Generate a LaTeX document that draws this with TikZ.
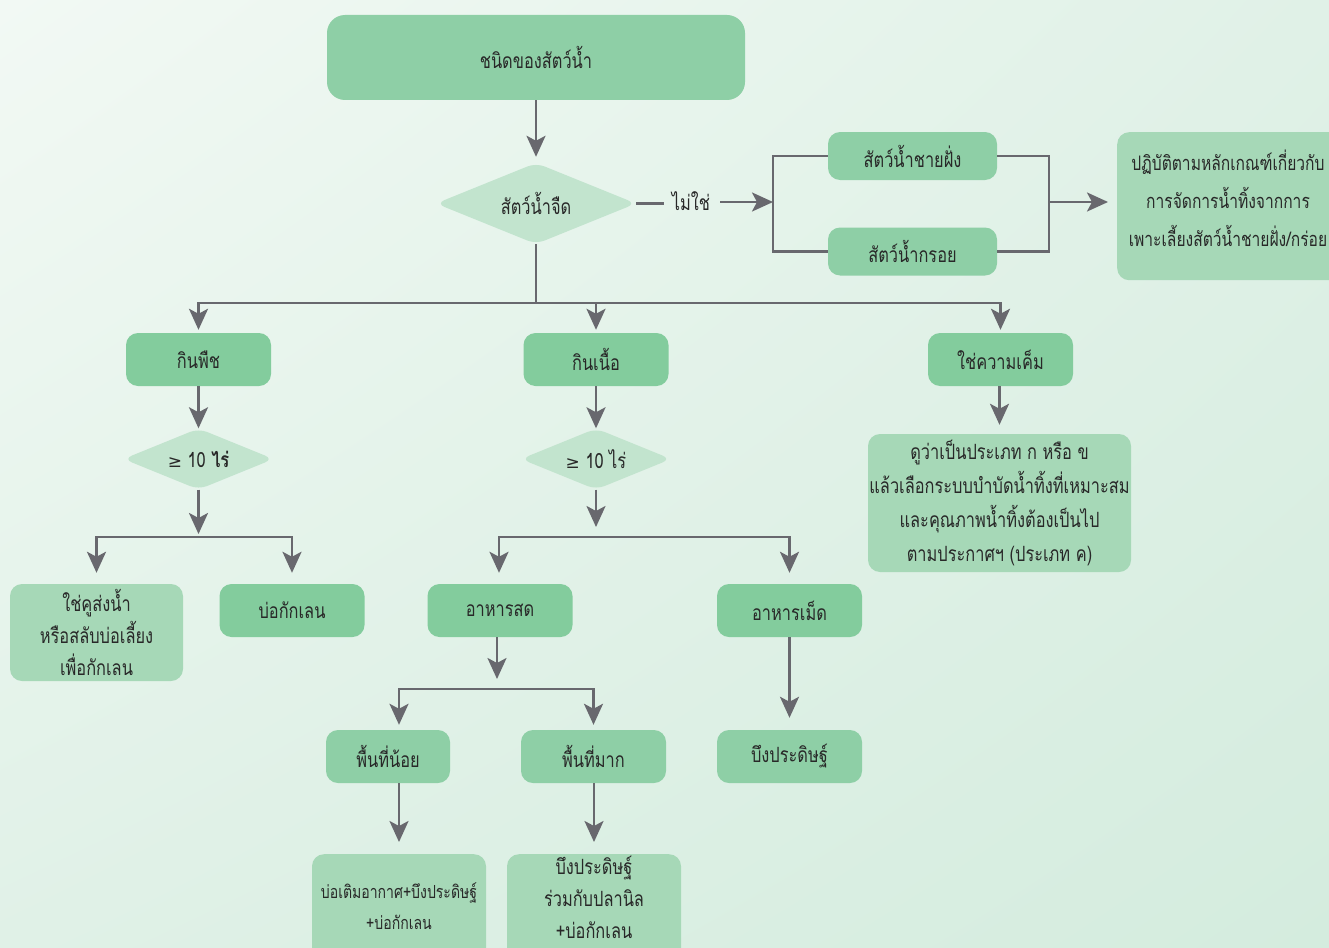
\documentclass[tikz,border=0pt]{standalone}
\usepackage{fontspec}
\setmainfont[Script=Thai,FakeStretch=0.78]{Loma}
\newfontfamily\symfont{DejaVu Sans}
\usetikzlibrary{arrows.meta,shadings}

\definecolor{bgA}{RGB}{242,249,244}
\definecolor{bgB}{RGB}{224,241,231}
\definecolor{bgC}{RGB}{212,236,222}
\definecolor{boxtop}{RGB}{142,207,166}
\definecolor{boxmid}{RGB}{131,204,157}
\definecolor{boxlite}{RGB}{166,216,183}
\definecolor{diafill}{RGB}{194,228,206}
\definecolor{linecol}{RGB}{104,104,110}
\definecolor{txt}{RGB}{40,40,40}

\tikzset{
  base/.style={rounded corners=12pt, inner sep=0pt, align=center, text=txt,
    font=\fontsize{21}{34}\selectfont},
  midbox/.style={base, fill=boxmid, minimum width=145pt, minimum height=53pt},
  topbox/.style={base, fill=boxtop, rounded corners=18pt},
  litebox/.style={base, fill=boxlite},
  dia/.style={rectangle, inner sep=0pt, text=txt, font=\fontsize{21}{24}\selectfont,
    path picture={\fill[diafill, rounded corners=9pt]
      (path picture bounding box.west) -- (path picture bounding box.north) --
      (path picture bounding box.east) -- (path picture bounding box.south) -- cycle;}},
  conn/.style={draw=linecol, line width=2.7pt},
  arr/.style={conn, -{Stealth[length=21pt,width=19pt,inset=5pt]}},
  plain/.style={conn}
}

\begin{document}
% y grows downwards here; a positive yshift moves a point up the page
\begin{tikzpicture}[x=1pt,y=-1pt]
  % page and background
  \useasboundingbox (0,0) rectangle (1329,947);
  \clip (0,0) rectangle (1329,947);
  \shade[upper left=bgA, upper right=bgB, lower left=bgB, lower right=bgC]
    (0,0) rectangle (1329,947);

  % top level
  \node[topbox, minimum width=418pt, minimum height=85pt] (kind) at (536,57.5) {ชนิดของสัตว์น้ำ};
  \node[dia, minimum width=200pt, minimum height=81pt] (fresh) at (536,203.5) {สัตว์น้ำจืด};
  \draw[arr] (kind.south) -- ([yshift=6pt]fresh.north);

  % not freshwater branch
  \node[text=txt, font=\fontsize{21}{24}\selectfont, inner sep=0pt] (no) at (691,201) {ไม่ใช่};
  \node[midbox, fill=boxtop, minimum width=169pt, minimum height=48pt] (coast) at (912.5,156) {สัตว์น้ำชายฝั่ง};
  \node[midbox, fill=boxtop, minimum width=169pt, minimum height=48pt] (brack) at (912.5,251.5) {สัตว์น้ำกรอย};
  \node[litebox, minimum width=240pt, minimum height=148pt, anchor=north west] (rule) at (1117,132) {};
  \node[text=txt, align=center, inner sep=0pt, font=\fontsize{20}{38}\selectfont]
    (ruletext) at (1228,198)
    {ปฏิบัติตามหลักเกณฑ์เกี่ยวกับ\\การจัดการน้ำทิ้งจากการ\\เพาะเลี้ยงสัตว์น้ำชายฝั่ง/กร่อย};
  \coordinate (lb) at (773,202);
  \coordinate (rb) at (1049,202);

  \draw[plain] (fresh.east) -- ([xshift=-8pt]no.west |- fresh.east);
  \draw[arr] ([xshift=10pt]no.east |- lb) -- (lb);
  \draw[plain] (coast.west) -| (lb) |- (brack.west);
  \draw[plain] (coast.east) -| (rb) |- (brack.east);
  \draw[arr] (rb) -- ([xshift=-9pt]rule.west |- rb);

  % freshwater split
  \node[midbox] (herb) at (198.5,359.5) {กินพืช};
  \node[midbox] (carn) at (596,359.5) {กินเนื้อ};
  \node[midbox] (salt) at (1000.5,359.5) {ใช่ความเค็ม};
  \coordinate (split) at (536,303);
  \draw[plain] (fresh.south) -- (split);
  \draw[arr] (split) -| ([yshift=3pt]herb.north);
  \draw[arr] (split) -| ([yshift=3pt]carn.north);
  \draw[arr] (split) -| ([yshift=3pt]salt.north);

  % herbivores
  \node[dia, minimum width=150pt, minimum height=61pt] (h10) at (198.5,459)
    {{\symfont\fontsize{17}{20}\selectfont ≥} 10 \textbf{ไร่}};
  \draw[arr] (herb.south) -- (h10.north);
  \node[litebox, minimum width=173pt, minimum height=97pt] (ditch) at (96.5,632.5)
    {ใช่คูส่งน้ำ\\[-2pt]หรือสลับบ่อเลี้ยง\\[-2pt]เพื่อกักเลน};
  \node[midbox] (silt1) at (292,610.5) {บ่อกักเลน};
  \coordinate (hs) at (198.5,537);
  \draw[arr] (h10.south) -- ([yshift=3pt]hs);
  \draw[arr] (hs) -| ([yshift=11pt]ditch.north);
  \draw[arr] (hs) -| ([yshift=11pt]silt1.north);

  % carnivores
  \node[dia, minimum width=150pt, minimum height=61pt] (c10) at (596,459)
    {{\symfont\fontsize{17}{20}\selectfont ≥} 10 ไร่};
  \draw[arr] (carn.south) -- (c10.north);
  \node[midbox] (rawfood) at (500,610.5) {อาหารสด};
  \node[midbox] (pellet) at (789.5,610.5) {อาหารเม็ด};
  \coordinate (cs) at (596,537);
  \draw[arr] (c10.south) -- ([yshift=10pt]cs);
  \draw[arr] (cs) -| ([xshift=-1pt,yshift=11pt]rawfood.north);
  \draw[arr] (cs) -| ([yshift=11pt]pellet.north);

  % raw food: pond area
  \node[midbox, fill=boxtop, minimum width=124pt] (small) at (388,756.5) {พื้นที่น้อย};
  \node[midbox, fill=boxtop] (large) at (593.5,756.5) {พื้นที่มาก};
  \node[midbox, fill=boxtop] (wet1) at (789.5,756.5) {บึงประดิษฐ์};
  \coordinate (fs) at (497,689);
  \draw[arr] (rawfood.south -| fs) -- ([yshift=10pt]fs);
  \draw[arr] (fs) -| ([xshift=11pt,yshift=5pt]small.north);
  \draw[arr] (fs) -| ([yshift=5pt]large.north);
  \draw[arr] (pellet.south) -- ([yshift=12pt]wet1.north);

  \node[litebox, minimum width=174pt, minimum height=130pt, anchor=north] (aer) at (399,854) {};
  \node[text=txt, align=center, font=\fontsize{18}{31}\selectfont, inner sep=0pt]
    at (399,906) {บ่อเติมอากาศ+บึงประดิษฐ์\\+บ่อกักเลน};
  \node[litebox, minimum width=174pt, minimum height=130pt, anchor=north] (tilapia) at (594,854) {};
  \node[text=txt, align=center, font=\fontsize{21}{32}\selectfont, inner sep=0pt]
    at (594,897) {บึงประดิษฐ์\\ร่วมกับปลานิล\\+บ่อกักเลน};
  \draw[arr] ([xshift=11pt]small.south) -- ([yshift=12pt]aer.north);
  \draw[arr] (large.south -| tilapia.north) -- ([yshift=12pt]tilapia.north);

  % brackish-tolerant
  \node[litebox, minimum width=263pt, minimum height=138pt] (treat) at (999.5,503)
    {ดูว่าเป็นประเภท ก หรือ ข\\แล้วเลือกระบบบำบัดน้ำทิ้งที่เหมาะสม\\และคุณภาพน้ำทิ้งต้องเป็นไป\\ตามประกาศฯ (ประเภท ค)};
  \draw[arr] (salt.south -| treat.north) -- ([yshift=9pt]treat.north);
\end{tikzpicture}
\end{document}
